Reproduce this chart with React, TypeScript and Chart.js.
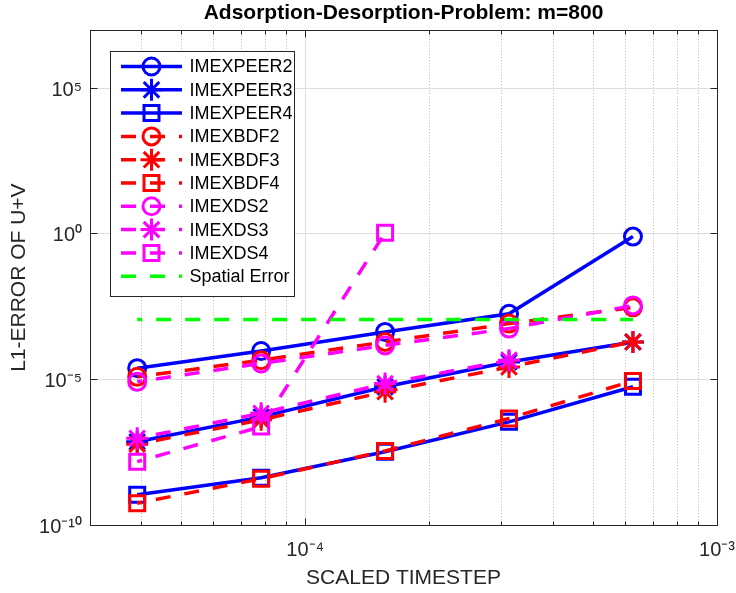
import React, { useEffect, useRef } from "react";
import { Chart, registerables } from "chart.js";

Chart.register(...registerables);

// ---------- data ----------
const TIMESTEPS = [3.90625e-5, 7.8125e-5, 1.5625e-4, 3.125e-4, 6.25e-4];

const IMEXPEER2 = [2.45e-5, 9.5e-5, 4.3e-4, 1.8e-3, 0.81];
const IMEXPEER3 = [7.2e-8, 5.2e-7, 5.6e-6, 4.0e-5, 1.95e-4];
const IMEXPEER4 = [1.1e-9, 4.2e-9, 3.3e-8, 3.5e-7, 5.6e-6];
const IMEXBDF2 = [1.23e-5, 4.6e-5, 1.95e-4, 8.3e-4, 3.0e-3];
const IMEXBDF3 = [6.0e-8, 4.1e-7, 3.8e-6, 2.7e-5, 1.95e-4];
const IMEXBDF4 = [5.6e-10, 3.9e-9, 3.5e-8, 4.6e-7, 8.9e-6];
const IMEXDS2 = [8.3e-6, 3.55e-5, 1.48e-4, 5.6e-4, 3.5e-3];
const IMEXDS3 = [9.5e-8, 6.9e-7, 7.2e-6, 4.6e-5, null];
const IMEXDS4 = [1.5e-8, 2.4e-7, 1.1, null, null];
const SPATIAL_ERROR = [1.16e-3, 1.16e-3, 1.16e-3, 1.16e-3, 1.16e-3];

const SERIES_LABELS = [
  "IMEXPEER2", "IMEXPEER3", "IMEXPEER4",
  "IMEXBDF2", "IMEXBDF3", "IMEXBDF4",
  "IMEXDS2", "IMEXDS3", "IMEXDS4",
  "Spatial Error",
];
const SERIES_VALUES = [
  IMEXPEER2, IMEXPEER3, IMEXPEER4,
  IMEXBDF2, IMEXBDF3, IMEXBDF4,
  IMEXDS2, IMEXDS3, IMEXDS4,
  SPATIAL_ERROR,
];

const X_MIN = 3e-5;
const X_MAX = 1e-3;
const Y_MIN = 1e-10;
const Y_MAX = 1e7;
const X_MAJOR_TICKS = [1e-4, 1e-3];
const X_TICK_LABELS = ["10⁻⁴", "10⁻³"];
const X_MINOR_TICKS = [3e-5, 4e-5, 5e-5, 6e-5, 7e-5, 8e-5, 9e-5, 2e-4, 3e-4, 4e-4, 5e-4, 6e-4, 7e-4, 8e-4, 9e-4];
const Y_TICKS = [1e-10, 1e-5, 1, 1e5];
const Y_TICK_LABELS = ["10⁻¹⁰", "10⁻⁵", "10⁰", "10⁵"];

const TITLE = "Adsorption-Desorption-Problem: m=800";
const X_TITLE = "SCALED TIMESTEP";
const Y_TITLE = "L1-ERROR OF U+V";

// ---------- styles ----------
const FONT = "'Liberation Sans', Arial, Helvetica, sans-serif";
const BLUE = "#0000ff";
const RED = "#ff0000";
const MAGENTA = "#ff00ff";
const GREEN = "#00ff00";
const AXIS = "#262626";
const DASH = [15, 14];

type Style = { color: string; dash: number[]; marker: string | false };
const STYLES: Style[] = [
  { color: BLUE, dash: [], marker: "circle" },
  { color: BLUE, dash: [], marker: "star" },
  { color: BLUE, dash: [], marker: "rect" },
  { color: RED, dash: DASH, marker: "circle" },
  { color: RED, dash: DASH, marker: "star" },
  { color: RED, dash: DASH, marker: "rect" },
  { color: MAGENTA, dash: DASH, marker: "circle" },
  { color: MAGENTA, dash: DASH, marker: "star" },
  { color: MAGENTA, dash: DASH, marker: "rect" },
  { color: GREEN, dash: DASH, marker: false },
];
const RADIUS: Record<string, number> = { circle: 8.5, star: 11, rect: 10.6 };
const LINE_W = 3.5;
const MARKER_W = 3;

const isIn = (v: number, arr: number[]) => arr.some((a) => Math.abs(a - v) / a < 1e-6);

function drawMarker(ctx: CanvasRenderingContext2D, style: string, x: number, y: number, r: number) {
  ctx.beginPath();
  if (style === "circle") {
    ctx.arc(x, y, r, 0, Math.PI * 2);
  } else if (style === "rect") {
    const s = Math.SQRT1_2 * r;
    ctx.rect(x - s, y - s, 2 * s, 2 * s);
  } else if (style === "star") {
    for (let k = 0; k < 4; k++) {
      const a = (k * Math.PI) / 4;
      ctx.moveTo(x + Math.cos(a) * r, y + Math.sin(a) * r);
      ctx.lineTo(x - Math.cos(a) * r, y - Math.sin(a) * r);
    }
  }
  ctx.stroke();
}

const framePlugin = {
  id: "matlabFrame",
  afterDatasetsDraw(chart: any) {
    const { ctx, chartArea } = chart;
    const xs = chart.scales.x;
    const ys = chart.scales.y;
    const L = Math.floor(chartArea.left) + 0.5;
    const R = Math.floor(chartArea.right) + 0.5;
    const T = Math.floor(chartArea.top) + 0.5;
    const B = Math.floor(chartArea.bottom) + 0.5;
    ctx.save();
    ctx.strokeStyle = AXIS;
    ctx.lineWidth = 1;
    ctx.setLineDash([]);
    ctx.beginPath();
    const xt = [...X_MINOR_TICKS.map((v) => [v, 4]), ...X_MAJOR_TICKS.map((v) => [v, 7])];
    xt.forEach(([v, len]) => {
      const px = Math.floor(xs.getPixelForValue(v)) + 0.5;
      ctx.moveTo(px, B);
      ctx.lineTo(px, B - len);
      ctx.moveTo(px, T);
      ctx.lineTo(px, T + len);
    });
    Y_TICKS.forEach((v) => {
      const py = Math.floor(ys.getPixelForValue(v)) + 0.5;
      ctx.moveTo(L, py);
      ctx.lineTo(L + 7, py);
      ctx.moveTo(R, py);
      ctx.lineTo(R - 7, py);
    });
    ctx.stroke();
    ctx.strokeRect(L, T, R - L, B - T);
    ctx.restore();
  },
};

const legendPlugin = {
  id: "matlabLegend",
  afterDraw(chart: any) {
    const { ctx, chartArea } = chart;
    const x0 = Math.floor(chartArea.left) + 20.5;
    const y0 = Math.floor(chartArea.top) + 21.5;
    const w = 184;
    const h = 245;
    ctx.save();
    ctx.fillStyle = "#ffffff";
    ctx.fillRect(x0, y0, w, h);
    ctx.strokeStyle = AXIS;
    ctx.lineWidth = 1;
    ctx.strokeRect(x0, y0, w, h);
    SERIES_LABELS.forEach((label, i) => {
      const st = STYLES[i];
      const cy = y0 + 15 + i * 23.3;
      const lx0 = x0 + 10.5;
      const lx1 = x0 + 71.5;
      ctx.strokeStyle = st.color;
      ctx.lineWidth = LINE_W;
      ctx.lineCap = "butt";
      ctx.setLineDash(st.dash);
      ctx.lineDashOffset = 0;
      ctx.beginPath();
      ctx.moveTo(lx0, cy);
      ctx.lineTo(lx1, cy);
      ctx.stroke();
      ctx.setLineDash([]);
      if (st.marker) {
        ctx.lineWidth = MARKER_W;
        drawMarker(ctx, st.marker, (lx0 + lx1) / 2, cy, RADIUS[st.marker]);
      }
      ctx.fillStyle = "#000000";
      ctx.font = `18px ${FONT}`;
      ctx.textAlign = "left";
      ctx.textBaseline = "middle";
      ctx.fillText(label, x0 + 79, cy + 1);
    });
    ctx.restore();
  },
};

export default function App() {
  const canvasRef = useRef<HTMLCanvasElement | null>(null);

  useEffect(() => {
    if (!canvasRef.current) return;
    Chart.defaults.font.family = FONT;

    const datasets = SERIES_LABELS.map((label, i) => {
      const st = STYLES[i];
      const vals = SERIES_VALUES[i];
      const data = TIMESTEPS.map((x, k) => ({ x, y: vals[k] })).filter((p) => p.y !== null);
      return {
        label,
        data,
        borderColor: st.color,
        backgroundColor: st.color,
        borderWidth: LINE_W,
        borderDash: st.dash,
        borderDashOffset: 10,
        borderCapStyle: "butt",
        pointStyle: st.marker || "circle",
        pointRadius: st.marker ? RADIUS[st.marker as string] : 0,
        pointHoverRadius: st.marker ? RADIUS[st.marker as string] : 0,
        pointBorderWidth: MARKER_W,
        pointBorderColor: st.color,
        pointBackgroundColor: "rgba(0,0,0,0)",
        tension: 0,
        fill: false,
        order: SERIES_LABELS.length - i,
      };
    });

    const chart = new Chart(canvasRef.current, {
      type: "line",
      data: { datasets: datasets as any },
      options: {
        responsive: false,
        animation: false,
        layout: { padding: { left: 0, right: 19, top: 0, bottom: 0 } },
        plugins: {
          legend: { display: false },
          tooltip: { enabled: false },
          title: {
            display: true,
            text: TITLE,
            fullSize: false,
            color: "#000000",
            font: { size: 21, weight: "bold", family: FONT },
            padding: { top: 1, bottom: 4 },
          },
        },
        scales: {
          x: {
            type: "logarithmic",
            min: X_MIN,
            max: X_MAX,
            afterBuildTicks: (s: any) => {
              s.ticks = [...X_MINOR_TICKS, ...X_MAJOR_TICKS].sort((a, b) => a - b).map((v) => ({ value: v }));
            },
            afterFit: (s: any) => {
              s.height = 68;
              s.paddingLeft = 0;
              s.paddingRight = 0;
            },
            ticks: {
              autoSkip: false,
              maxRotation: 0,
              minRotation: 0,
              padding: 13,
              color: AXIS,
              font: { size: 20, family: FONT },
              callback: (v: any) => {
                const idx = X_MAJOR_TICKS.findIndex((m) => Math.abs(m - v) / m < 1e-6);
                return idx >= 0 ? X_TICK_LABELS[idx] : "";
              },
            },
            grid: {
              drawTicks: false,
              color: (c: any) => (c.tick && isIn(c.tick.value, X_MAJOR_TICKS) ? "#dedede" : "#b8b8b8"),
              lineWidth: 1,
            },
            border: {
              display: false,
              dash: (c: any) => (c.tick && !isIn(c.tick.value, X_MAJOR_TICKS) ? [1, 2] : []),
            },
            title: {
              display: true,
              text: X_TITLE,
              color: AXIS,
              font: { size: 21, family: FONT },
              padding: { top: 0, bottom: 2 },
            },
          },
          y: {
            type: "logarithmic",
            min: Y_MIN,
            max: Y_MAX,
            afterBuildTicks: (s: any) => {
              s.ticks = Y_TICKS.map((v) => ({ value: v }));
            },
            afterFit: (s: any) => {
              s.width = 90;
              s.paddingTop = 0;
              s.paddingBottom = 0;
            },
            ticks: {
              autoSkip: false,
              padding: 8,
              labelOffset: 2,
              color: AXIS,
              font: { size: 20, family: FONT },
              callback: (v: any) => {
                const idx = Y_TICKS.findIndex((m) => Math.abs(m - v) / m < 1e-6);
                return idx >= 0 ? Y_TICK_LABELS[idx] : "";
              },
            },
            grid: {
              drawTicks: false,
              color: "#dedede",
              lineWidth: 1,
            },
            border: { display: false },
            title: {
              display: true,
              text: Y_TITLE,
              color: AXIS,
              font: { size: 21, family: FONT },
              padding: { top: 7, bottom: 0 },
            },
          },
        },
      },
      plugins: [framePlugin, legendPlugin],
    });

    return () => chart.destroy();
  }, []);

  return (
    <div style={{ position: "fixed", left: 0, top: 0, width: 736, height: 593, background: "#ffffff" }}>
      <canvas ref={canvasRef} width={736} height={593} style={{ display: "block" }} />
    </div>
  );
}
